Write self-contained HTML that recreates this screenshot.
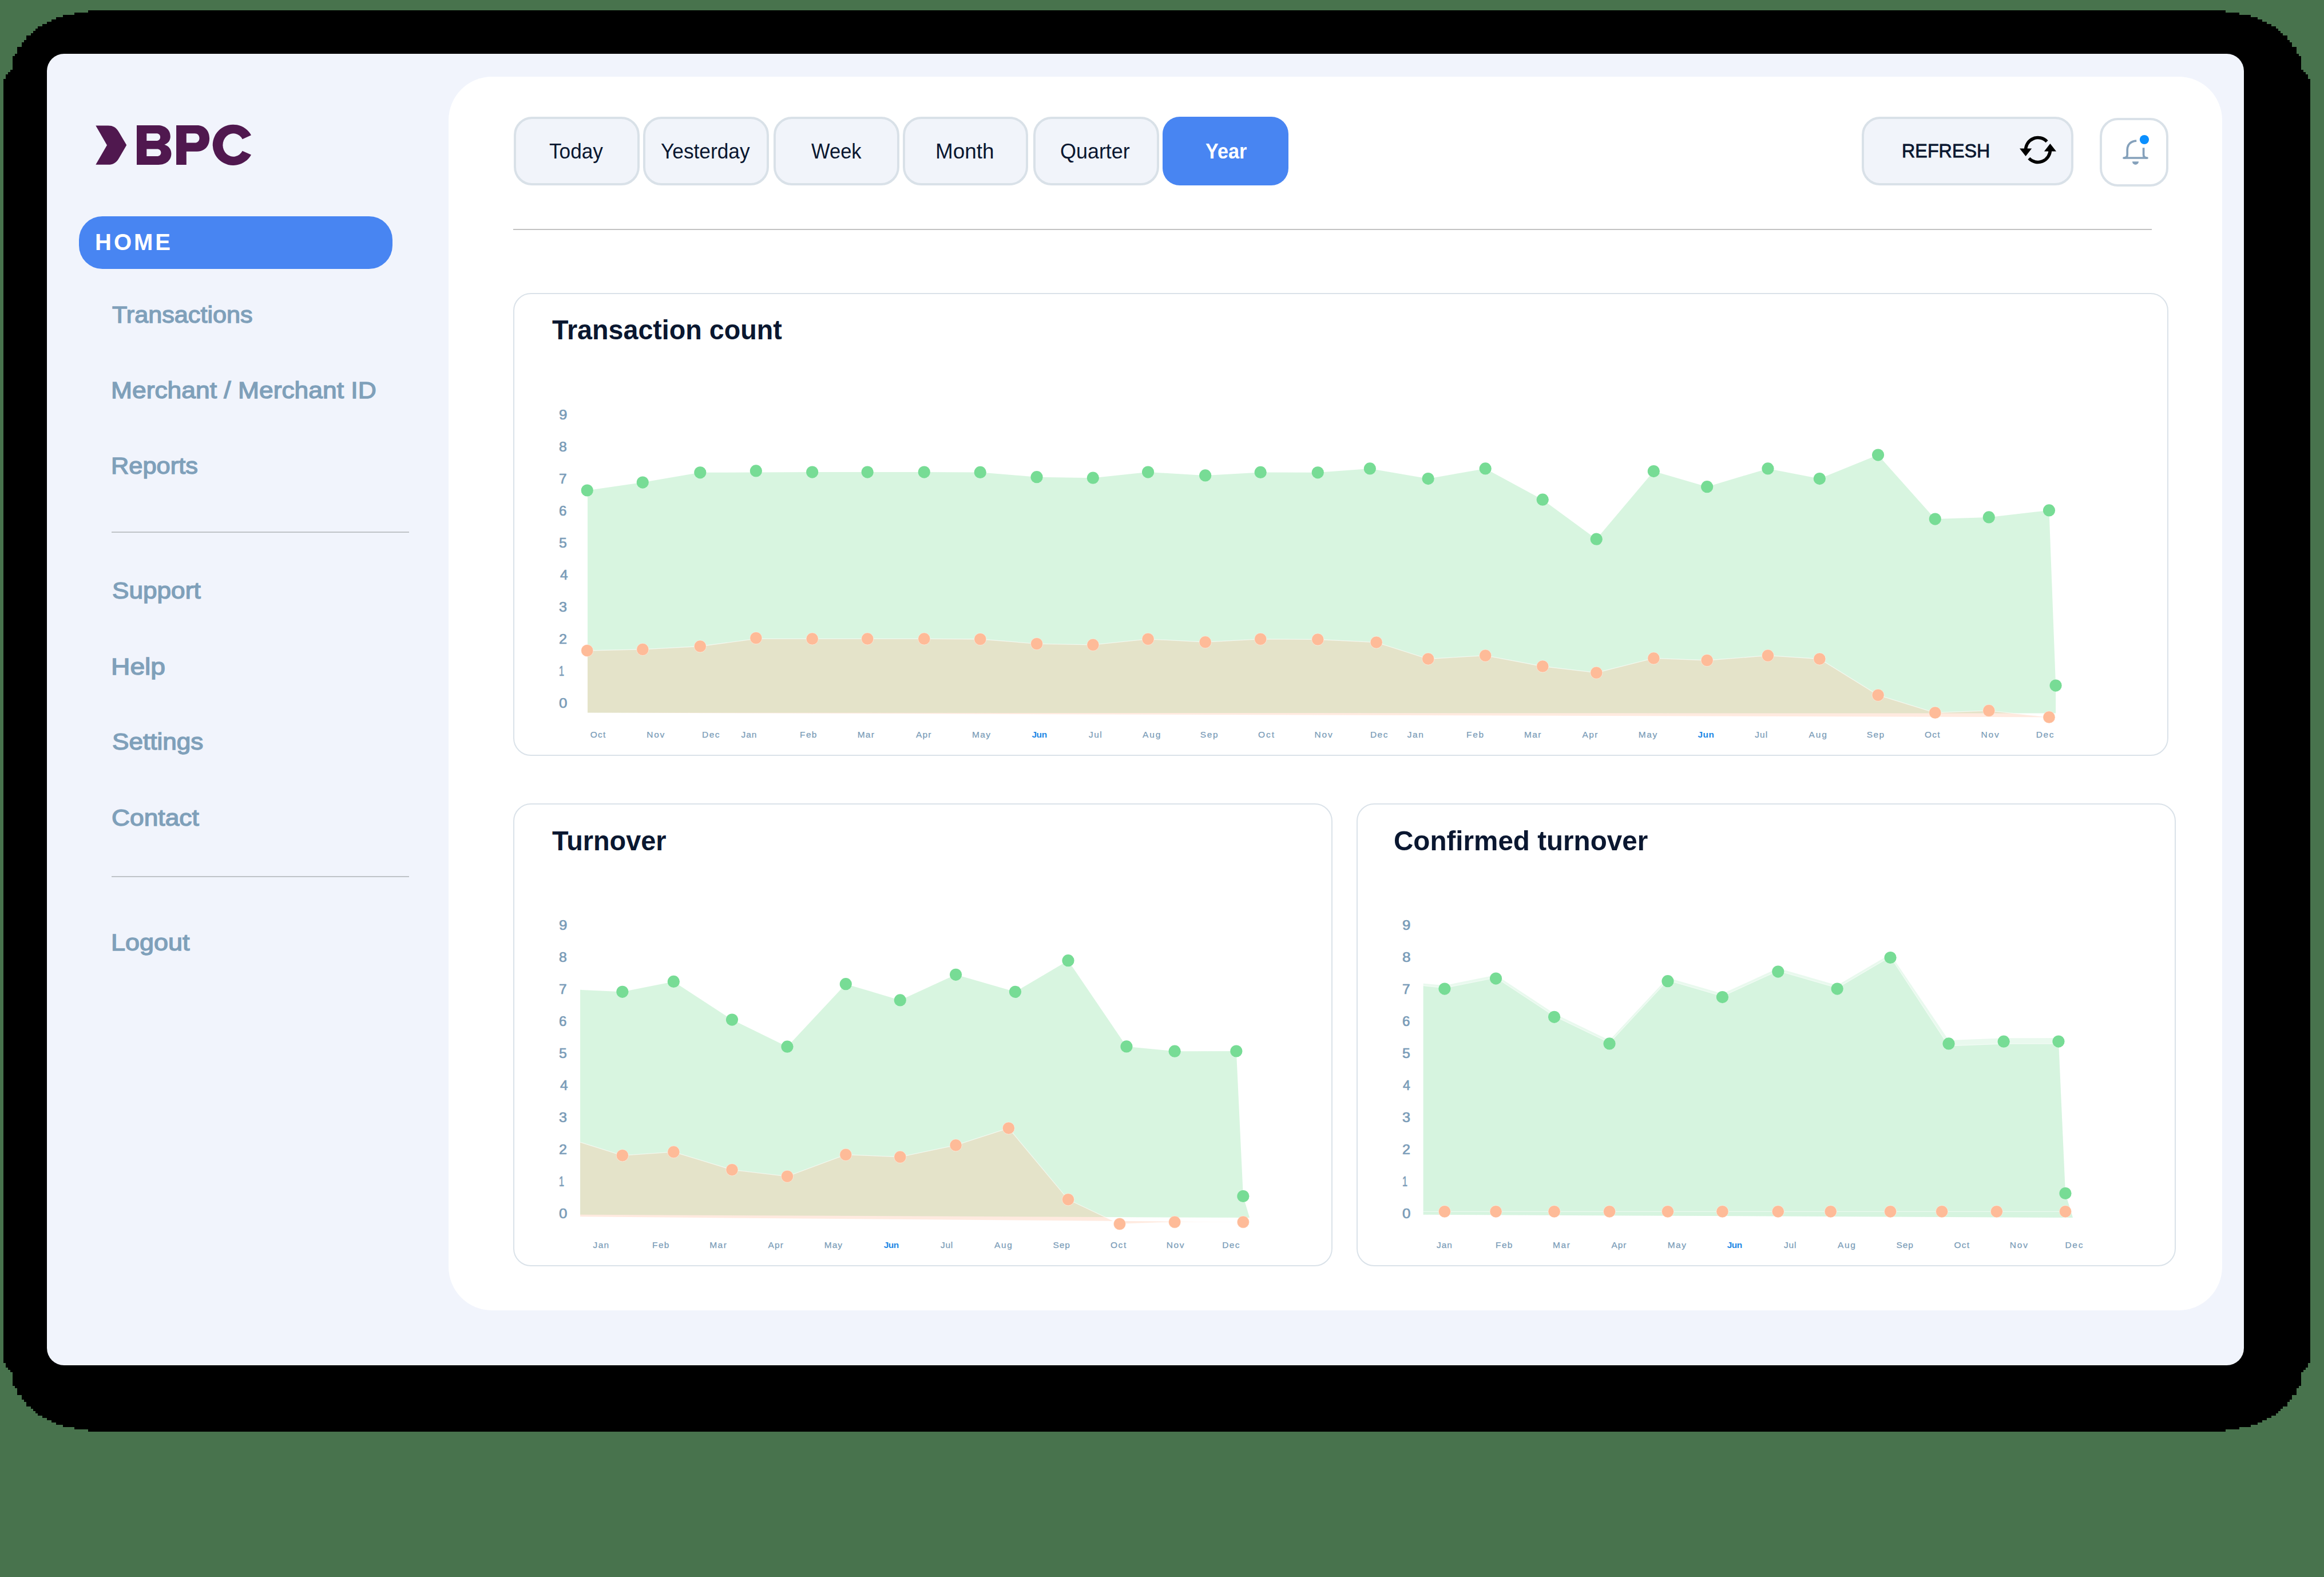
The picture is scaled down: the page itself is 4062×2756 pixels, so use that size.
<!DOCTYPE html>
<html lang="en"><head><meta charset="utf-8"><title>BPC Dashboard</title>
<style>
html,body{margin:0;padding:0}
body{width:4062px;height:2756px;background:#48734d;position:relative;overflow:hidden;font-family:"Liberation Sans",sans-serif}
.a{position:absolute}
.t{position:absolute;white-space:nowrap;line-height:1;transform-origin:0 0}
.card{position:absolute;left:82px;top:94px;width:3840px;height:2292px;border-radius:30px;background:#f1f4fc}
.panel{position:absolute;left:784px;top:134px;width:3100px;height:2156px;border-radius:76px;background:#fff}
.btn{position:absolute;box-sizing:border-box;border:4px solid #d9e1e8;background:#f1f4fa;border-radius:32px}
.box{position:absolute;box-sizing:border-box;border:2px solid #dae2e9;border-radius:31px;background:#fff}
.hr{position:absolute;height:2px;background:#c2c2c2}
</style></head><body>

<svg class="a" style="left:0;top:0" width="4062" height="2756" shape-rendering="crispEdges"><path d="M154 18 L154 22 L130 22 L130 26 L110 26 L110 30 L98 30 L98 34 L90 34 L90 38 L82 38 L82 42 L74 42 L74 46 L66 46 L66 50 L62 50 L62 54 L58 54 L58 58 L54 58 L54 62 L46 62 L46 70 L42 70 L42 74 L38 74 L38 82 L30 82 L30 94 L26 94 L26 98 L22 98 L22 122 L18 122 L18 126 L14 126 L14 130 L10 130 L10 138 L6 138 L6 2382 L10 2382 L10 2390 L14 2390 L14 2394 L18 2394 L18 2398 L22 2398 L22 2422 L26 2422 L26 2426 L30 2426 L30 2438 L38 2438 L38 2446 L42 2446 L42 2450 L46 2450 L46 2458 L54 2458 L54 2462 L58 2462 L58 2466 L62 2466 L62 2470 L66 2470 L66 2474 L74 2474 L74 2478 L82 2478 L82 2482 L90 2482 L90 2486 L98 2486 L98 2490 L110 2490 L110 2494 L130 2494 L130 2498 L154 2498 L154 2502 L3890 2502 L3890 2498 L3914 2498 L3914 2494 L3934 2494 L3934 2490 L3946 2490 L3946 2486 L3954 2486 L3954 2482 L3962 2482 L3962 2478 L3970 2478 L3970 2474 L3978 2474 L3978 2470 L3982 2470 L3982 2466 L3986 2466 L3986 2462 L3990 2462 L3990 2458 L3998 2458 L3998 2450 L4002 2450 L4002 2446 L4006 2446 L4006 2438 L4014 2438 L4014 2426 L4018 2426 L4018 2422 L4022 2422 L4022 2398 L4026 2398 L4026 2394 L4030 2394 L4030 2390 L4034 2390 L4034 2382 L4038 2382 L4038 138 L4034 138 L4034 130 L4030 130 L4030 126 L4026 126 L4026 122 L4022 122 L4022 98 L4018 98 L4018 94 L4014 94 L4014 82 L4006 82 L4006 74 L4002 74 L4002 70 L3998 70 L3998 62 L3990 62 L3990 58 L3986 58 L3986 54 L3982 54 L3982 50 L3978 50 L3978 46 L3970 46 L3970 42 L3962 42 L3962 38 L3954 38 L3954 34 L3946 34 L3946 30 L3934 30 L3934 26 L3914 26 L3914 22 L3890 22 L3890 18Z" fill="#000"/></svg>
<div class="card"></div><div class="panel"></div>
<svg class="a" style="left:0;top:0" width="500" height="320">
<path fill="#50184f" d="M167.3 219.6 H189 C197.5 219.6 203 222.8 207.6 230.4 L221.2 253.6 L207.6 277 C203 284.6 197.5 287.8 189 287.8 H167.3 L187 253.7 Z"/>
<path fill="#50184f" fill-rule="evenodd" d="M239 219.1 H275.5 C289 219.1 297.8 227 297.8 238.5 C297.8 245.5 294 250.5 287.4 252.7 C295 255 299.4 261 299.4 268.6 C299.4 280.5 290 288 277 288 H239 Z M256.3 233.3 H273.5 C277.5 233.3 280.1 236 280.1 239.7 C280.1 243.4 277.5 246 273.5 246 H256.3 Z M256.3 260.4 H274.5 C278.7 260.4 281.4 263 281.4 266.8 C281.4 270.5 278.7 273.1 274.5 273.1 H256.3 Z"/>
<path fill="#50184f" fill-rule="evenodd" d="M308.1 219.1 H344.5 C357.5 219.1 366.1 228.5 366.1 242 C366.1 255.5 357.5 264.7 344.5 264.7 H325.8 V288 H308.1 Z M325.8 233.3 H340.5 C345.3 233.3 348.5 236.7 348.5 241.5 C348.5 246.3 345.3 249.6 340.5 249.6 H325.8 Z"/>
<path fill="#50184f" d="M439 236.3 A35.8 35.65 0 1 0 439 270.4 L423.7 263.7 A18.4 20.25 0 1 1 423.7 243.3 Z"/>
</svg>
<div class="a" style="left:138px;top:378px;width:548px;height:92px;border-radius:41px;background:#4885f2"></div>
<div class="t" style="left:166.00px;top:402.64px;font-size:40px;letter-spacing:4.000px;color:#fff;font-weight:700;">HOME</div>
<div class="t" style="left:195.95px;top:530.02px;font-size:40.5px;color:#7fa0ba;transform:scaleX(1.0666);-webkit-text-stroke:1.4px #7fa0ba;">Transactions</div>
<div class="t" style="left:193.97px;top:661.52px;font-size:40.5px;color:#7fa0ba;transform:scaleX(1.0958);-webkit-text-stroke:1.4px #7fa0ba;">Merchant / Merchant ID</div>
<div class="t" style="left:193.95px;top:794.12px;font-size:40.5px;color:#7fa0ba;transform:scaleX(1.0716);-webkit-text-stroke:1.4px #7fa0ba;">Reports</div>
<div class="t" style="left:195.96px;top:1012.42px;font-size:40.5px;color:#7fa0ba;transform:scaleX(1.0902);-webkit-text-stroke:1.4px #7fa0ba;">Support</div>
<div class="t" style="left:194.00px;top:1144.92px;font-size:40.5px;color:#7fa0ba;transform:scaleX(1.1412);-webkit-text-stroke:1.4px #7fa0ba;">Help</div>
<div class="t" style="left:195.96px;top:1275.72px;font-size:40.5px;color:#7fa0ba;transform:scaleX(1.0895);-webkit-text-stroke:1.4px #7fa0ba;">Settings</div>
<div class="t" style="left:194.97px;top:1409.02px;font-size:40.5px;color:#7fa0ba;transform:scaleX(1.0948);-webkit-text-stroke:1.4px #7fa0ba;">Contact</div>
<div class="t" style="left:193.98px;top:1627.32px;font-size:40.5px;color:#7fa0ba;transform:scaleX(1.1096);-webkit-text-stroke:1.4px #7fa0ba;">Logout</div>
<div class="hr" style="left:195px;top:929px;width:520px;background:#bfc3c7"></div>
<div class="hr" style="left:195px;top:1531px;width:520px;background:#bfc3c7"></div>
<div class="btn" style="left:898.0px;top:204px;width:219.6px;height:119.6px"></div>
<div class="t" style="left:960.00px;top:246.26px;font-size:37.5px;color:#0a1730;transform:scaleX(0.9388);">Today</div>
<div class="btn" style="left:1124.4px;top:204px;width:219.6px;height:119.6px"></div>
<div class="t" style="left:1155.40px;top:246.26px;font-size:37.5px;color:#0a1730;transform:scaleX(0.9409);">Yesterday</div>
<div class="btn" style="left:1352.3px;top:204px;width:219.6px;height:119.6px"></div>
<div class="t" style="left:1417.70px;top:246.26px;font-size:37.5px;color:#0a1730;transform:scaleX(0.9207);">Week</div>
<div class="btn" style="left:1577.9px;top:204px;width:219.6px;height:119.6px"></div>
<div class="t" style="left:1634.80px;top:246.26px;font-size:37.5px;color:#0a1730;transform:scaleX(0.9842);">Month</div>
<div class="btn" style="left:1806.1px;top:204px;width:219.6px;height:119.6px"></div>
<div class="t" style="left:1853.00px;top:246.26px;font-size:37.5px;color:#0a1730;transform:scaleX(0.9581);">Quarter</div>
<div class="a" style="left:2032.3px;top:204px;width:219.6px;height:119.6px;border-radius:30px;background:#4885f2"></div>
<div class="t" style="left:2107.00px;top:246.26px;font-size:37.5px;color:#fff;transform:scaleX(0.9110);font-weight:700;">Year</div>
<div class="btn" style="left:3254.2px;top:204.3px;width:369.6px;height:119.6px"></div>
<div class="t" style="left:3324.19px;top:247.07px;font-size:33px;color:#0a1730;transform:scaleX(0.9789);-webkit-text-stroke:0.8px #0a1730;">REFRESH</div>
<svg class="a" style="left:3520px;top:230px" width="84" height="64" viewBox="3520 230 84 64">
<path fill="none" stroke="#000" stroke-width="5.6" d="M3540.6 262 A21.4 21.4 0 0 1 3577.6 247.3"/>
<path fill="none" stroke="#000" stroke-width="5.6" d="M3583.4 262 A21.4 21.4 0 0 1 3546.4 276.7"/>
<path fill="#000" d="M3530 259.5 H3551.2 L3540.6 273 Z"/>
<path fill="#000" d="M3572.9 264.5 H3594 L3583.4 251 Z"/>
</svg>
<div class="btn" style="left:3670.4px;top:206.2px;width:119.4px;height:119.4px;background:#fff"></div>
<svg class="a" style="left:3700px;top:230px" width="70" height="64" viewBox="3700 230 70 64">
<path fill="none" stroke="#85a1bb" stroke-width="3.7" stroke-linejoin="round" d="M3734.2 246.1 C3724 246.4 3718.2 253 3718.2 262 V270.5 C3718.2 274 3716 276 3712 276 M3753 276 C3749 276 3746.6 274 3746.6 270.5 V258.2"/>
<path fill="none" stroke="#85a1bb" stroke-width="3.7" stroke-linecap="round" d="M3712 276 H3753"/>
<path fill="#85a1bb" d="M3727 282.3 H3738 C3738 285.5 3735.5 287.8 3732.5 287.8 C3729.5 287.8 3727 285.5 3727 282.3 Z"/>
<circle cx="3748" cy="244" r="8.1" fill="#0a8fff"/>
</svg>
<div class="hr" style="left:897px;top:400px;width:2864px"></div>
<div class="box" style="left:897px;top:512px;width:2893px;height:809px"></div>
<div class="box" style="left:897px;top:1404px;width:1432px;height:809px"></div>
<div class="box" style="left:2371px;top:1404px;width:1432px;height:809px"></div>
<div class="t" style="left:965.40px;top:551.82px;font-size:49px;color:#0a1730;transform:scaleX(0.9519);font-weight:700;">Transaction count</div>
<div class="t" style="left:965.30px;top:1445.32px;font-size:49px;color:#0a1730;transform:scaleX(0.9562);font-weight:700;">Turnover</div>
<div class="t" style="left:2436.20px;top:1445.32px;font-size:49px;color:#0a1730;transform:scaleX(0.9712);font-weight:700;">Confirmed turnover</div>
<div class="t" style="left:977.18px;top:713.71px;font-size:23.5px;color:#7a9cb8;transform:scaleX(1.0995);-webkit-text-stroke:0.7px #7a9cb8;">9</div>
<div class="t" style="left:977.17px;top:769.79px;font-size:23.5px;color:#7a9cb8;transform:scaleX(1.0561);-webkit-text-stroke:0.7px #7a9cb8;">8</div>
<div class="t" style="left:977.16px;top:825.87px;font-size:23.5px;color:#7a9cb8;transform:scaleX(1.0416);-webkit-text-stroke:0.7px #7a9cb8;">7</div>
<div class="t" style="left:977.16px;top:881.95px;font-size:23.5px;color:#7a9cb8;transform:scaleX(1.0271);-webkit-text-stroke:0.7px #7a9cb8;">6</div>
<div class="t" style="left:977.17px;top:938.03px;font-size:23.5px;color:#7a9cb8;transform:scaleX(1.0561);-webkit-text-stroke:0.7px #7a9cb8;">5</div>
<div class="t" style="left:978.76px;top:994.11px;font-size:23.5px;color:#7a9cb8;transform:scaleX(1.0416);-webkit-text-stroke:0.7px #7a9cb8;">4</div>
<div class="t" style="left:977.17px;top:1050.19px;font-size:23.5px;color:#7a9cb8;transform:scaleX(1.0705);-webkit-text-stroke:0.7px #7a9cb8;">3</div>
<div class="t" style="left:977.17px;top:1106.27px;font-size:23.5px;color:#7a9cb8;transform:scaleX(1.0705);-webkit-text-stroke:0.7px #7a9cb8;">2</div>
<div class="t" style="left:977.04px;top:1162.17px;font-size:23.5px;color:#7a9cb8;transform:scaleX(0.6944);-webkit-text-stroke:0.7px #7a9cb8;">1</div>
<div class="t" style="left:977.19px;top:1218.29px;font-size:23.5px;color:#7a9cb8;transform:scaleX(1.1067);-webkit-text-stroke:0.7px #7a9cb8;">0</div>
<div class="t" style="left:977.18px;top:1605.71px;font-size:23.5px;color:#7a9cb8;transform:scaleX(1.0995);-webkit-text-stroke:0.7px #7a9cb8;">9</div>
<div class="t" style="left:977.17px;top:1661.79px;font-size:23.5px;color:#7a9cb8;transform:scaleX(1.0561);-webkit-text-stroke:0.7px #7a9cb8;">8</div>
<div class="t" style="left:977.16px;top:1717.87px;font-size:23.5px;color:#7a9cb8;transform:scaleX(1.0416);-webkit-text-stroke:0.7px #7a9cb8;">7</div>
<div class="t" style="left:977.16px;top:1773.95px;font-size:23.5px;color:#7a9cb8;transform:scaleX(1.0271);-webkit-text-stroke:0.7px #7a9cb8;">6</div>
<div class="t" style="left:977.17px;top:1830.03px;font-size:23.5px;color:#7a9cb8;transform:scaleX(1.0561);-webkit-text-stroke:0.7px #7a9cb8;">5</div>
<div class="t" style="left:978.76px;top:1886.11px;font-size:23.5px;color:#7a9cb8;transform:scaleX(1.0416);-webkit-text-stroke:0.7px #7a9cb8;">4</div>
<div class="t" style="left:977.17px;top:1942.19px;font-size:23.5px;color:#7a9cb8;transform:scaleX(1.0705);-webkit-text-stroke:0.7px #7a9cb8;">3</div>
<div class="t" style="left:977.17px;top:1998.27px;font-size:23.5px;color:#7a9cb8;transform:scaleX(1.0705);-webkit-text-stroke:0.7px #7a9cb8;">2</div>
<div class="t" style="left:977.04px;top:2054.17px;font-size:23.5px;color:#7a9cb8;transform:scaleX(0.6944);-webkit-text-stroke:0.7px #7a9cb8;">1</div>
<div class="t" style="left:977.19px;top:2110.29px;font-size:23.5px;color:#7a9cb8;transform:scaleX(1.1067);-webkit-text-stroke:0.7px #7a9cb8;">0</div>
<div class="t" style="left:2450.98px;top:1605.71px;font-size:23.5px;color:#7a9cb8;transform:scaleX(1.0995);-webkit-text-stroke:0.7px #7a9cb8;">9</div>
<div class="t" style="left:2450.99px;top:1661.79px;font-size:23.5px;color:#7a9cb8;transform:scaleX(1.1139);-webkit-text-stroke:0.7px #7a9cb8;">8</div>
<div class="t" style="left:2450.96px;top:1717.87px;font-size:23.5px;color:#7a9cb8;transform:scaleX(1.0416);-webkit-text-stroke:0.7px #7a9cb8;">7</div>
<div class="t" style="left:2450.96px;top:1773.95px;font-size:23.5px;color:#7a9cb8;transform:scaleX(1.0271);-webkit-text-stroke:0.7px #7a9cb8;">6</div>
<div class="t" style="left:2450.97px;top:1830.03px;font-size:23.5px;color:#7a9cb8;transform:scaleX(1.0561);-webkit-text-stroke:0.7px #7a9cb8;">5</div>
<div class="t" style="left:2452.14px;top:1886.11px;font-size:23.5px;color:#7a9cb8;transform:scaleX(0.9837);-webkit-text-stroke:0.7px #7a9cb8;">4</div>
<div class="t" style="left:2450.97px;top:1942.19px;font-size:23.5px;color:#7a9cb8;transform:scaleX(1.0705);-webkit-text-stroke:0.7px #7a9cb8;">3</div>
<div class="t" style="left:2450.97px;top:1998.27px;font-size:23.5px;color:#7a9cb8;transform:scaleX(1.0705);-webkit-text-stroke:0.7px #7a9cb8;">2</div>
<div class="t" style="left:2450.84px;top:2054.17px;font-size:23.5px;color:#7a9cb8;transform:scaleX(0.6944);-webkit-text-stroke:0.7px #7a9cb8;">1</div>
<div class="t" style="left:2450.99px;top:2110.29px;font-size:23.5px;color:#7a9cb8;transform:scaleX(1.1067);-webkit-text-stroke:0.7px #7a9cb8;">0</div>
<svg class="a" style="left:0;top:0" width="4062" height="2756">
<polygon fill="rgba(119,220,149,0.29)" points="1027.0,857.0 1123.3,843.1 1223.8,825.8 1321.4,825.5 1419.7,825.1 1516.2,825.1 1615.3,825.1 1713.3,825.4 1812.1,833.7 1910.4,835.2 2006.6,825.1 2106.7,830.9 2203.2,825.4 2303.3,825.8 2394.4,818.9 2496.2,836.6 2596.2,818.9 2696.3,873.2 2790.3,942.2 2890.4,823.6 2983.7,850.7 3090.0,818.9 3180.4,836.6 3282.6,795.1 3382.3,907.1 3476.3,903.9 3581.5,891.9 3593.1,1198.1 3593.1,1246.6 1027.0,1245.6"/>
<polygon fill="rgba(255,184,150,0.3)" points="1027.0,1137.0 1123.3,1134.9 1223.8,1129.5 1321.4,1116.4 1419.7,1116.4 1516.2,1116.4 1615.3,1116.4 1713.3,1117.0 1812.1,1125.1 1910.4,1126.9 2006.6,1116.8 2106.7,1122.2 2203.2,1116.8 2303.3,1117.5 2405.7,1122.6 2496.2,1151.5 2596.2,1145.7 2696.3,1164.5 2790.3,1175.7 2890.4,1150.4 2983.7,1154.0 3090.0,1145.7 3180.4,1151.5 3282.6,1214.8 3382.3,1245.5 3476.3,1241.9 3581.5,1253.4 1027.0,1245.6"/>
<polyline fill="none" stroke="rgba(255,255,255,0.6)" stroke-width="1.3" points="1027.0,1137.0 1123.3,1134.9 1223.8,1129.5 1321.4,1116.4 1419.7,1116.4 1516.2,1116.4 1615.3,1116.4 1713.3,1117.0 1812.1,1125.1 1910.4,1126.9 2006.6,1116.8 2106.7,1122.2 2203.2,1116.8 2303.3,1117.5 2405.7,1122.6 2496.2,1151.5 2596.2,1145.7 2696.3,1164.5 2790.3,1175.7 2890.4,1150.4 2983.7,1154.0 3090.0,1145.7 3180.4,1151.5 3282.6,1214.8 3382.3,1245.5 3476.3,1241.9 3581.5,1253.4"/>
<circle cx="1026.3" cy="857.0" r="10.6" fill="#77dc95"/>
<circle cx="1123.3" cy="843.1" r="10.6" fill="#77dc95"/>
<circle cx="1223.8" cy="825.8" r="10.6" fill="#77dc95"/>
<circle cx="1321.4" cy="822.9" r="10.6" fill="#77dc95"/>
<circle cx="1419.7" cy="825.1" r="10.6" fill="#77dc95"/>
<circle cx="1516.2" cy="825.1" r="10.6" fill="#77dc95"/>
<circle cx="1615.3" cy="825.1" r="10.6" fill="#77dc95"/>
<circle cx="1713.3" cy="825.4" r="10.6" fill="#77dc95"/>
<circle cx="1812.1" cy="833.7" r="10.6" fill="#77dc95"/>
<circle cx="1910.4" cy="835.2" r="10.6" fill="#77dc95"/>
<circle cx="2006.6" cy="825.1" r="10.6" fill="#77dc95"/>
<circle cx="2106.7" cy="830.9" r="10.6" fill="#77dc95"/>
<circle cx="2203.2" cy="825.4" r="10.6" fill="#77dc95"/>
<circle cx="2303.3" cy="825.8" r="10.6" fill="#77dc95"/>
<circle cx="2394.4" cy="818.9" r="10.6" fill="#77dc95"/>
<circle cx="2496.2" cy="836.6" r="10.6" fill="#77dc95"/>
<circle cx="2596.2" cy="818.9" r="10.6" fill="#77dc95"/>
<circle cx="2696.3" cy="873.2" r="10.6" fill="#77dc95"/>
<circle cx="2790.3" cy="942.2" r="10.6" fill="#77dc95"/>
<circle cx="2890.4" cy="823.6" r="10.6" fill="#77dc95"/>
<circle cx="2983.7" cy="850.7" r="10.6" fill="#77dc95"/>
<circle cx="3090.0" cy="818.9" r="10.6" fill="#77dc95"/>
<circle cx="3180.4" cy="836.6" r="10.6" fill="#77dc95"/>
<circle cx="3282.6" cy="795.1" r="10.6" fill="#77dc95"/>
<circle cx="3382.3" cy="907.1" r="10.6" fill="#77dc95"/>
<circle cx="3476.3" cy="903.9" r="10.6" fill="#77dc95"/>
<circle cx="3581.5" cy="891.9" r="10.6" fill="#77dc95"/>
<circle cx="3593.1" cy="1198.1" r="10.6" fill="#77dc95"/>
<circle cx="1026.3" cy="1137.0" r="10.6" fill="#febb98" stroke="rgba(255,255,255,0.45)" stroke-width="1"/>
<circle cx="1123.3" cy="1134.9" r="10.6" fill="#febb98" stroke="rgba(255,255,255,0.45)" stroke-width="1"/>
<circle cx="1223.8" cy="1129.5" r="10.6" fill="#febb98" stroke="rgba(255,255,255,0.45)" stroke-width="1"/>
<circle cx="1321.4" cy="1115.0" r="10.6" fill="#febb98" stroke="rgba(255,255,255,0.45)" stroke-width="1"/>
<circle cx="1419.7" cy="1116.4" r="10.6" fill="#febb98" stroke="rgba(255,255,255,0.45)" stroke-width="1"/>
<circle cx="1516.2" cy="1116.4" r="10.6" fill="#febb98" stroke="rgba(255,255,255,0.45)" stroke-width="1"/>
<circle cx="1615.3" cy="1116.4" r="10.6" fill="#febb98" stroke="rgba(255,255,255,0.45)" stroke-width="1"/>
<circle cx="1713.3" cy="1117.0" r="10.6" fill="#febb98" stroke="rgba(255,255,255,0.45)" stroke-width="1"/>
<circle cx="1812.1" cy="1125.1" r="10.6" fill="#febb98" stroke="rgba(255,255,255,0.45)" stroke-width="1"/>
<circle cx="1910.4" cy="1126.9" r="10.6" fill="#febb98" stroke="rgba(255,255,255,0.45)" stroke-width="1"/>
<circle cx="2006.6" cy="1116.8" r="10.6" fill="#febb98" stroke="rgba(255,255,255,0.45)" stroke-width="1"/>
<circle cx="2106.7" cy="1122.2" r="10.6" fill="#febb98" stroke="rgba(255,255,255,0.45)" stroke-width="1"/>
<circle cx="2203.2" cy="1116.8" r="10.6" fill="#febb98" stroke="rgba(255,255,255,0.45)" stroke-width="1"/>
<circle cx="2303.3" cy="1117.5" r="10.6" fill="#febb98" stroke="rgba(255,255,255,0.45)" stroke-width="1"/>
<circle cx="2405.7" cy="1122.6" r="10.6" fill="#febb98" stroke="rgba(255,255,255,0.45)" stroke-width="1"/>
<circle cx="2496.2" cy="1151.5" r="10.6" fill="#febb98" stroke="rgba(255,255,255,0.45)" stroke-width="1"/>
<circle cx="2596.2" cy="1145.7" r="10.6" fill="#febb98" stroke="rgba(255,255,255,0.45)" stroke-width="1"/>
<circle cx="2696.3" cy="1164.5" r="10.6" fill="#febb98" stroke="rgba(255,255,255,0.45)" stroke-width="1"/>
<circle cx="2790.3" cy="1175.7" r="10.6" fill="#febb98" stroke="rgba(255,255,255,0.45)" stroke-width="1"/>
<circle cx="2890.4" cy="1150.4" r="10.6" fill="#febb98" stroke="rgba(255,255,255,0.45)" stroke-width="1"/>
<circle cx="2983.7" cy="1154.0" r="10.6" fill="#febb98" stroke="rgba(255,255,255,0.45)" stroke-width="1"/>
<circle cx="3090.0" cy="1145.7" r="10.6" fill="#febb98" stroke="rgba(255,255,255,0.45)" stroke-width="1"/>
<circle cx="3180.4" cy="1151.5" r="10.6" fill="#febb98" stroke="rgba(255,255,255,0.45)" stroke-width="1"/>
<circle cx="3282.6" cy="1214.8" r="10.6" fill="#febb98" stroke="rgba(255,255,255,0.45)" stroke-width="1"/>
<circle cx="3382.3" cy="1245.5" r="10.6" fill="#febb98" stroke="rgba(255,255,255,0.45)" stroke-width="1"/>
<circle cx="3476.3" cy="1241.9" r="10.6" fill="#febb98" stroke="rgba(255,255,255,0.45)" stroke-width="1"/>
<circle cx="3581.5" cy="1253.4" r="10.6" fill="#febb98" stroke="rgba(255,255,255,0.45)" stroke-width="1"/>
<polygon fill="rgba(119,220,149,0.29)" points="1014.1,1729.8 1087.9,1733.3 1177.4,1715.4 1279.5,1782.1 1376.0,1829.2 1478.3,1719.7 1573.3,1747.9 1670.6,1703.3 1774.5,1733.3 1867.0,1678.7 1969.0,1828.9 2053.2,1837.2 2160.9,1837.0 2172.9,2090.5 2184.1,2128.1 1014.1,2122.7"/>
<polygon fill="rgba(255,184,150,0.3)" points="1014.1,1996.2 1087.9,2019.3 1177.4,2013.2 1279.5,2044.3 1376.0,2055.8 1478.3,2017.9 1573.3,2021.9 1670.6,2001.4 1762.9,1971.6 1867.0,2096.3 1957.0,2139.0 2053.2,2135.7 2172.9,2135.7 1014.1,2126.3"/>
<polyline fill="none" stroke="rgba(255,255,255,0.6)" stroke-width="1.3" points="1014.1,1996.2 1087.9,2019.3 1177.4,2013.2 1279.5,2044.3 1376.0,2055.8 1478.3,2017.9 1573.3,2021.9 1670.6,2001.4 1762.9,1971.6 1867.0,2096.3 1957.0,2139.0 2053.2,2135.7 2172.9,2135.7"/>
<circle cx="1087.9" cy="1733.3" r="10.6" fill="#77dc95"/>
<circle cx="1177.4" cy="1715.4" r="10.6" fill="#77dc95"/>
<circle cx="1279.5" cy="1782.1" r="10.6" fill="#77dc95"/>
<circle cx="1376.0" cy="1829.2" r="10.6" fill="#77dc95"/>
<circle cx="1478.3" cy="1719.7" r="10.6" fill="#77dc95"/>
<circle cx="1573.3" cy="1747.9" r="10.6" fill="#77dc95"/>
<circle cx="1670.6" cy="1703.3" r="10.6" fill="#77dc95"/>
<circle cx="1774.5" cy="1733.3" r="10.6" fill="#77dc95"/>
<circle cx="1867.0" cy="1678.7" r="10.6" fill="#77dc95"/>
<circle cx="1969.0" cy="1828.9" r="10.6" fill="#77dc95"/>
<circle cx="2053.2" cy="1837.2" r="10.6" fill="#77dc95"/>
<circle cx="2160.9" cy="1837.0" r="10.6" fill="#77dc95"/>
<circle cx="2172.9" cy="2090.5" r="10.6" fill="#77dc95"/>
<circle cx="1087.9" cy="2019.3" r="10.6" fill="#febb98" stroke="rgba(255,255,255,0.45)" stroke-width="1"/>
<circle cx="1177.4" cy="2013.2" r="10.6" fill="#febb98" stroke="rgba(255,255,255,0.45)" stroke-width="1"/>
<circle cx="1279.5" cy="2044.3" r="10.6" fill="#febb98" stroke="rgba(255,255,255,0.45)" stroke-width="1"/>
<circle cx="1376.0" cy="2055.8" r="10.6" fill="#febb98" stroke="rgba(255,255,255,0.45)" stroke-width="1"/>
<circle cx="1478.3" cy="2017.9" r="10.6" fill="#febb98" stroke="rgba(255,255,255,0.45)" stroke-width="1"/>
<circle cx="1573.3" cy="2021.9" r="10.6" fill="#febb98" stroke="rgba(255,255,255,0.45)" stroke-width="1"/>
<circle cx="1670.6" cy="2001.4" r="10.6" fill="#febb98" stroke="rgba(255,255,255,0.45)" stroke-width="1"/>
<circle cx="1762.9" cy="1971.6" r="10.6" fill="#febb98" stroke="rgba(255,255,255,0.45)" stroke-width="1"/>
<circle cx="1867.0" cy="2096.3" r="10.6" fill="#febb98" stroke="rgba(255,255,255,0.45)" stroke-width="1"/>
<circle cx="1957.0" cy="2139.0" r="10.6" fill="#febb98" stroke="rgba(255,255,255,0.45)" stroke-width="1"/>
<circle cx="2053.2" cy="2135.7" r="10.6" fill="#febb98" stroke="rgba(255,255,255,0.45)" stroke-width="1"/>
<circle cx="2172.9" cy="2135.7" r="10.6" fill="#febb98" stroke="rgba(255,255,255,0.45)" stroke-width="1"/>
<polygon fill="rgba(119,220,149,0.16)" points="2487.7,1718.7 2525.0,1722.1 2614.6,1704.1 2716.6,1771.3 2813.1,1817.9 2915.0,1708.7 3010.5,1736.6 3107.8,1692.1 3211.2,1722.1 3304.1,1667.5 3406.1,1817.9 3502.2,1814.2 3598.0,1814.1 3610.0,2085.5 3623.0,2128.1 2487.7,2122.7"/>
<polygon fill="rgba(119,220,149,0.16)" points="2487.7,1722.7 2525.0,1726.6 2614.6,1708.6 2716.6,1775.8 2813.1,1822.4 2915.0,1713.2 3010.5,1741.1 3107.8,1696.6 3211.2,1726.6 3304.1,1672.0 3406.1,1827.9 3502.2,1824.2 3598.0,1824.1 3610.0,2085.5 3623.0,2128.1 2487.7,2122.7"/>
<polyline fill="none" stroke="rgba(255,255,255,0.55)" stroke-width="1.2" points="2487.7,1722.7 2525.0,1726.6 2614.6,1708.6 2716.6,1775.8 2813.1,1822.4 2915.0,1713.2 3010.5,1741.1 3107.8,1696.6 3211.2,1726.6 3304.1,1672.0 3406.1,1827.9 3502.2,1824.2 3598.0,1824.1"/>
<line x1="2487.7" y1="2117.3" x2="3610" y2="2117.3" stroke="rgba(255,255,255,0.5)" stroke-width="1.2"/>
<circle cx="2525.0" cy="1728.1" r="10.6" fill="#77dc95"/>
<circle cx="2614.6" cy="1710.1" r="10.6" fill="#77dc95"/>
<circle cx="2716.6" cy="1777.3" r="10.6" fill="#77dc95"/>
<circle cx="2813.1" cy="1823.9" r="10.6" fill="#77dc95"/>
<circle cx="2915.0" cy="1714.7" r="10.6" fill="#77dc95"/>
<circle cx="3010.5" cy="1742.6" r="10.6" fill="#77dc95"/>
<circle cx="3107.8" cy="1698.1" r="10.6" fill="#77dc95"/>
<circle cx="3211.2" cy="1728.1" r="10.6" fill="#77dc95"/>
<circle cx="3304.1" cy="1673.5" r="10.6" fill="#77dc95"/>
<circle cx="3406.1" cy="1823.9" r="10.6" fill="#77dc95"/>
<circle cx="3502.2" cy="1820.2" r="10.6" fill="#77dc95"/>
<circle cx="3598.0" cy="1820.1" r="10.6" fill="#77dc95"/>
<circle cx="3610.0" cy="2085.5" r="10.6" fill="#77dc95"/>
<circle cx="2525.0" cy="2117.3" r="10.6" fill="#febb98" stroke="rgba(255,255,255,0.45)" stroke-width="1"/>
<circle cx="2614.6" cy="2117.3" r="10.6" fill="#febb98" stroke="rgba(255,255,255,0.45)" stroke-width="1"/>
<circle cx="2716.6" cy="2117.3" r="10.6" fill="#febb98" stroke="rgba(255,255,255,0.45)" stroke-width="1"/>
<circle cx="2813.1" cy="2117.3" r="10.6" fill="#febb98" stroke="rgba(255,255,255,0.45)" stroke-width="1"/>
<circle cx="2915.0" cy="2117.3" r="10.6" fill="#febb98" stroke="rgba(255,255,255,0.45)" stroke-width="1"/>
<circle cx="3010.5" cy="2117.3" r="10.6" fill="#febb98" stroke="rgba(255,255,255,0.45)" stroke-width="1"/>
<circle cx="3107.8" cy="2117.3" r="10.6" fill="#febb98" stroke="rgba(255,255,255,0.45)" stroke-width="1"/>
<circle cx="3199.7" cy="2117.3" r="10.6" fill="#febb98" stroke="rgba(255,255,255,0.45)" stroke-width="1"/>
<circle cx="3304.1" cy="2117.3" r="10.6" fill="#febb98" stroke="rgba(255,255,255,0.45)" stroke-width="1"/>
<circle cx="3394.1" cy="2117.3" r="10.6" fill="#febb98" stroke="rgba(255,255,255,0.45)" stroke-width="1"/>
<circle cx="3489.9" cy="2117.3" r="10.6" fill="#febb98" stroke="rgba(255,255,255,0.45)" stroke-width="1"/>
<circle cx="3610.0" cy="2117.3" r="10.6" fill="#febb98" stroke="rgba(255,255,255,0.45)" stroke-width="1"/>
</svg>
<div class="t" style="left:1031.72px;top:1275.68px;font-size:15.5px;letter-spacing:1.213px;color:#7a9cb8;-webkit-text-stroke:0.25px #7a9cb8;">Oct</div>
<div class="t" style="left:1130.32px;top:1275.68px;font-size:15.5px;letter-spacing:1.663px;color:#7a9cb8;-webkit-text-stroke:0.25px #7a9cb8;">Nov</div>
<div class="t" style="left:1227.12px;top:1275.68px;font-size:15.5px;letter-spacing:1.463px;color:#7a9cb8;-webkit-text-stroke:0.25px #7a9cb8;">Dec</div>
<div class="t" style="left:1295.52px;top:1275.68px;font-size:15.5px;letter-spacing:0.875px;color:#7a9cb8;-webkit-text-stroke:0.25px #7a9cb8;">Jan</div>
<div class="t" style="left:1398.12px;top:1275.68px;font-size:15.5px;letter-spacing:1.300px;color:#7a9cb8;-webkit-text-stroke:0.25px #7a9cb8;">Feb</div>
<div class="t" style="left:1498.72px;top:1275.68px;font-size:15.5px;letter-spacing:1.200px;color:#7a9cb8;-webkit-text-stroke:0.25px #7a9cb8;">Mar</div>
<div class="t" style="left:1600.92px;top:1275.68px;font-size:15.5px;letter-spacing:1.212px;color:#7a9cb8;-webkit-text-stroke:0.25px #7a9cb8;">Apr</div>
<div class="t" style="left:1699.12px;top:1275.68px;font-size:15.5px;letter-spacing:1.250px;color:#7a9cb8;-webkit-text-stroke:0.25px #7a9cb8;">May</div>
<div class="t" style="left:1803.40px;top:1275.68px;font-size:15.5px;letter-spacing:-0.400px;color:#1e88e5;font-weight:700;">Jun</div>
<div class="t" style="left:1902.92px;top:1275.68px;font-size:15.5px;letter-spacing:1.538px;color:#7a9cb8;-webkit-text-stroke:0.25px #7a9cb8;">Jul</div>
<div class="t" style="left:1996.92px;top:1275.68px;font-size:15.5px;letter-spacing:1.963px;color:#7a9cb8;-webkit-text-stroke:0.25px #7a9cb8;">Aug</div>
<div class="t" style="left:2097.72px;top:1275.68px;font-size:15.5px;letter-spacing:1.663px;color:#7a9cb8;-webkit-text-stroke:0.25px #7a9cb8;">Sep</div>
<div class="t" style="left:2199.12px;top:1275.68px;font-size:15.5px;letter-spacing:1.912px;color:#7a9cb8;-webkit-text-stroke:0.25px #7a9cb8;">Oct</div>
<div class="t" style="left:2297.52px;top:1275.68px;font-size:15.5px;letter-spacing:1.863px;color:#7a9cb8;-webkit-text-stroke:0.25px #7a9cb8;">Nov</div>
<div class="t" style="left:2394.93px;top:1275.68px;font-size:15.5px;letter-spacing:1.463px;color:#7a9cb8;-webkit-text-stroke:0.25px #7a9cb8;">Dec</div>
<div class="t" style="left:2459.82px;top:1275.68px;font-size:15.5px;letter-spacing:1.475px;color:#7a9cb8;-webkit-text-stroke:0.25px #7a9cb8;">Jan</div>
<div class="t" style="left:2563.12px;top:1275.68px;font-size:15.5px;letter-spacing:1.600px;color:#7a9cb8;-webkit-text-stroke:0.25px #7a9cb8;">Feb</div>
<div class="t" style="left:2663.93px;top:1275.68px;font-size:15.5px;letter-spacing:1.400px;color:#7a9cb8;-webkit-text-stroke:0.25px #7a9cb8;">Mar</div>
<div class="t" style="left:2765.53px;top:1275.68px;font-size:15.5px;letter-spacing:1.362px;color:#7a9cb8;-webkit-text-stroke:0.25px #7a9cb8;">Apr</div>
<div class="t" style="left:2863.72px;top:1275.68px;font-size:15.5px;letter-spacing:1.650px;color:#7a9cb8;-webkit-text-stroke:0.25px #7a9cb8;">May</div>
<div class="t" style="left:2967.40px;top:1275.68px;font-size:15.5px;letter-spacing:0.450px;color:#1e88e5;font-weight:700;">Jun</div>
<div class="t" style="left:3067.32px;top:1275.68px;font-size:15.5px;letter-spacing:0.988px;color:#7a9cb8;-webkit-text-stroke:0.25px #7a9cb8;">Jul</div>
<div class="t" style="left:3161.42px;top:1275.68px;font-size:15.5px;letter-spacing:1.963px;color:#7a9cb8;-webkit-text-stroke:0.25px #7a9cb8;">Aug</div>
<div class="t" style="left:3262.72px;top:1275.68px;font-size:15.5px;letter-spacing:1.463px;color:#7a9cb8;-webkit-text-stroke:0.25px #7a9cb8;">Sep</div>
<div class="t" style="left:3364.12px;top:1275.68px;font-size:15.5px;letter-spacing:1.162px;color:#7a9cb8;-webkit-text-stroke:0.25px #7a9cb8;">Oct</div>
<div class="t" style="left:3462.52px;top:1275.68px;font-size:15.5px;letter-spacing:1.863px;color:#7a9cb8;-webkit-text-stroke:0.25px #7a9cb8;">Nov</div>
<div class="t" style="left:3558.72px;top:1275.68px;font-size:15.5px;letter-spacing:1.663px;color:#7a9cb8;-webkit-text-stroke:0.25px #7a9cb8;">Dec</div>
<div class="t" style="left:1036.62px;top:2167.78px;font-size:15.5px;letter-spacing:1.275px;color:#7a9cb8;-webkit-text-stroke:0.25px #7a9cb8;">Jan</div>
<div class="t" style="left:1140.12px;top:2167.78px;font-size:15.5px;letter-spacing:1.300px;color:#7a9cb8;-webkit-text-stroke:0.25px #7a9cb8;">Feb</div>
<div class="t" style="left:1240.32px;top:2167.78px;font-size:15.5px;letter-spacing:1.400px;color:#7a9cb8;-webkit-text-stroke:0.25px #7a9cb8;">Mar</div>
<div class="t" style="left:1342.52px;top:2167.78px;font-size:15.5px;letter-spacing:1.163px;color:#7a9cb8;-webkit-text-stroke:0.25px #7a9cb8;">Apr</div>
<div class="t" style="left:1440.72px;top:2167.78px;font-size:15.5px;letter-spacing:1.050px;color:#7a9cb8;-webkit-text-stroke:0.25px #7a9cb8;">May</div>
<div class="t" style="left:1544.80px;top:2167.78px;font-size:15.5px;letter-spacing:-0.550px;color:#1e88e5;font-weight:700;">Jun</div>
<div class="t" style="left:1644.02px;top:2167.78px;font-size:15.5px;letter-spacing:0.738px;color:#7a9cb8;-webkit-text-stroke:0.25px #7a9cb8;">Jul</div>
<div class="t" style="left:1738.12px;top:2167.78px;font-size:15.5px;letter-spacing:1.562px;color:#7a9cb8;-webkit-text-stroke:0.25px #7a9cb8;">Aug</div>
<div class="t" style="left:1840.42px;top:2167.78px;font-size:15.5px;letter-spacing:0.963px;color:#7a9cb8;-webkit-text-stroke:0.25px #7a9cb8;">Sep</div>
<div class="t" style="left:1940.92px;top:2167.78px;font-size:15.5px;letter-spacing:1.613px;color:#7a9cb8;-webkit-text-stroke:0.25px #7a9cb8;">Oct</div>
<div class="t" style="left:2038.72px;top:2167.78px;font-size:15.5px;letter-spacing:1.562px;color:#7a9cb8;-webkit-text-stroke:0.25px #7a9cb8;">Nov</div>
<div class="t" style="left:2136.32px;top:2167.78px;font-size:15.5px;letter-spacing:1.263px;color:#7a9cb8;-webkit-text-stroke:0.25px #7a9cb8;">Dec</div>
<div class="t" style="left:2511.03px;top:2167.78px;font-size:15.5px;letter-spacing:0.875px;color:#7a9cb8;-webkit-text-stroke:0.25px #7a9cb8;">Jan</div>
<div class="t" style="left:2614.12px;top:2167.78px;font-size:15.5px;letter-spacing:1.300px;color:#7a9cb8;-webkit-text-stroke:0.25px #7a9cb8;">Feb</div>
<div class="t" style="left:2714.12px;top:2167.78px;font-size:15.5px;letter-spacing:1.500px;color:#7a9cb8;-webkit-text-stroke:0.25px #7a9cb8;">Mar</div>
<div class="t" style="left:2816.42px;top:2167.78px;font-size:15.5px;letter-spacing:0.963px;color:#7a9cb8;-webkit-text-stroke:0.25px #7a9cb8;">Apr</div>
<div class="t" style="left:2914.72px;top:2167.78px;font-size:15.5px;letter-spacing:1.450px;color:#7a9cb8;-webkit-text-stroke:0.25px #7a9cb8;">May</div>
<div class="t" style="left:3018.80px;top:2167.78px;font-size:15.5px;letter-spacing:-0.550px;color:#1e88e5;font-weight:700;">Jun</div>
<div class="t" style="left:3118.03px;top:2167.78px;font-size:15.5px;letter-spacing:0.787px;color:#7a9cb8;-webkit-text-stroke:0.25px #7a9cb8;">Jul</div>
<div class="t" style="left:3212.12px;top:2167.78px;font-size:15.5px;letter-spacing:1.562px;color:#7a9cb8;-webkit-text-stroke:0.25px #7a9cb8;">Aug</div>
<div class="t" style="left:3314.42px;top:2167.78px;font-size:15.5px;letter-spacing:0.963px;color:#7a9cb8;-webkit-text-stroke:0.25px #7a9cb8;">Sep</div>
<div class="t" style="left:3415.62px;top:2167.78px;font-size:15.5px;letter-spacing:1.162px;color:#7a9cb8;-webkit-text-stroke:0.25px #7a9cb8;">Oct</div>
<div class="t" style="left:3512.72px;top:2167.78px;font-size:15.5px;letter-spacing:1.863px;color:#7a9cb8;-webkit-text-stroke:0.25px #7a9cb8;">Nov</div>
<div class="t" style="left:3609.52px;top:2167.78px;font-size:15.5px;letter-spacing:1.663px;color:#7a9cb8;-webkit-text-stroke:0.25px #7a9cb8;">Dec</div>
</body></html>
